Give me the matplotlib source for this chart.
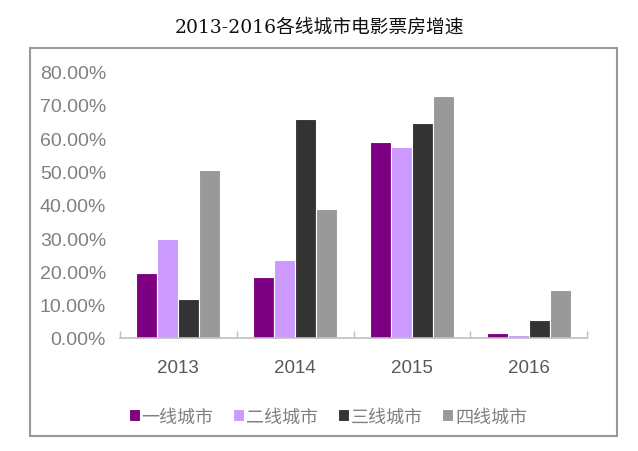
import matplotlib
matplotlib.use("Agg")
import matplotlib.pyplot as plt
import numpy as np
from matplotlib.patches import Rectangle
from matplotlib.ticker import FuncFormatter, MultipleLocator

title = "2013-2016各线城市电影票房增速"
years = ["2013", "2014", "2015", "2016"]
series_names = ["一线城市", "二线城市", "三线城市", "四线城市"]
tier1 = [19.5, 18.3, 58.8, 1.4]
tier2 = [29.8, 23.4, 57.5, 1.0]
tier3 = [11.7, 65.9, 64.7, 5.4]
tier4 = [50.6, 38.8, 72.6, 14.4]
colors = ["#7E0082", "#CC99FF", "#333333", "#999999"]

plt.rcParams['font.family'] = ['Liberation Sans', 'Noto Sans CJK SC']

fig = plt.figure(figsize=(6.38, 4.52), dpi=100)
ax = fig.add_axes([120/638, 1-339/452, (587-120)/638, (339-72.7)/452])

x = np.arange(len(years))
values = [tier1, tier2, tier3, tier4]
bw = 0.18
offsets = (np.arange(4) - 1.5) * bw
for i, (vals, name, c) in enumerate(zip(values, series_names, colors)):
    ax.bar(x + offsets[i], vals, width=bw, color=c, edgecolor="white",
           linewidth=0.8, label=name, zorder=2)

ax.set_xlim(-0.5, 3.5)
ax.set_ylim(0, 80)
ax.yaxis.set_major_locator(MultipleLocator(10))
ax.yaxis.set_major_formatter(FuncFormatter(lambda v, p: f"{v:.2f}%"))
ax.set_xticks(x)
ax.set_xticklabels(years)
ax.set_xticks(np.arange(-0.5, 4.0, 1.0), minor=True)
ax.tick_params(axis='x', which='major', length=0, pad=15, labelsize=13.5, labelcolor="#595959")
ax.tick_params(axis='x', which='minor', length=5, direction='in', color="#BFBFBF", width=1)
ax.tick_params(axis='y', length=0, pad=10, labelsize=14, labelcolor="#808080")
for s in ["top", "right", "left"]:
    ax.spines[s].set_visible(False)
ax.spines["bottom"].set_color("#BFBFBF")
ax.spines["bottom"].set_linewidth(1.2)

# outer frame
fig.patches.append(Rectangle((30/638, 1-437/452), (616.7-30)/638, (437-49)/452,
                             transform=fig.transFigure, fill=False,
                             edgecolor="#999999", linewidth=1.5))

fig.text(0.5, 1-28/452, title, ha="center", va="center", fontsize=13.5,
         color="#111111", family=['DejaVu Serif', 'Noto Sans CJK SC'])

leg = fig.legend(loc="center", bbox_to_anchor=(328/638, 1-418/452), ncol=4,
                 frameon=False, fontsize=13, handlelength=0.6, handleheight=0.6,
                 handletextpad=0.1, columnspacing=1.1)
for t in leg.get_texts():
    t.set_color("#808080")

fig.savefig("out.png", dpi=100)
